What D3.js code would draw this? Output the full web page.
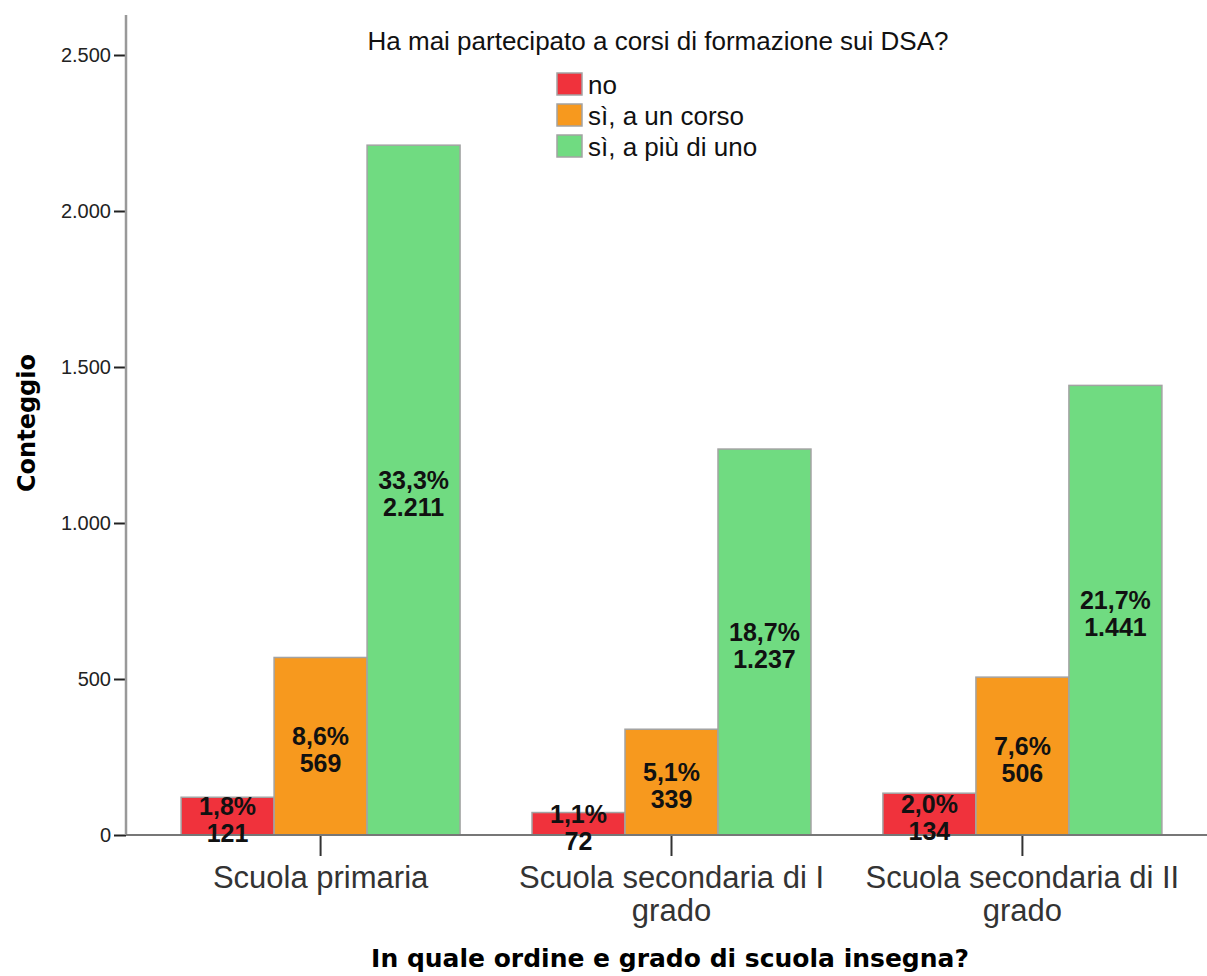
<!DOCTYPE html>
<html lang="it">
<head>
    <meta charset="UTF-8">
    <title>Ha mai partecipato a corsi di formazione sui DSA?</title>
    <style>
        body, html {
            margin: 0;
            padding: 0;
            background: #fff;
            overflow: hidden;
        }
        svg text {
            font-family: "Liberation Sans", Arial, sans-serif;
        }
        .bar-label {
            font-family: "Liberation Sans", Arial, sans-serif;
            font-weight: bold;
            font-size: 25px;
            fill: #111;
        }
        .axis-title {
            font-family: "DejaVu Sans", Verdana, sans-serif !important;
            font-weight: bold;
            fill: #000;
        }
    </style>
</head>
<body>
    <svg id="chart" width="1207" height="976"></svg>

    <script src="https://cdnjs.cloudflare.com/ajax/libs/d3/7.8.5/d3.min.js"></script>
    <script>
        // data
        const categories = ["Scuola primaria", "Scuola secondaria di I grado", "Scuola secondaria di II grado"];
        const series = ["no", "sì, a un corso", "sì, a più di uno"];
        const countNo = [121, 72, 134];
        const countUno = [569, 339, 506];
        const countPiu = [2211, 1237, 1441];
        const pctNo = [1.8, 1.1, 2.0];
        const pctUno = [8.6, 5.1, 7.6];
        const pctPiu = [33.3, 18.7, 21.7];
        const yTicks = [0, 500, 1000, 1500, 2000, 2500];
        const colors = ["#f0323c", "#f7991e", "#70db81"];

        const counts = [countNo, countUno, countPiu];
        const pcts = [pctNo, pctUno, pctPiu];

        const it = d3.formatLocale({decimal: ",", thousands: ".", grouping: [3], currency: ["€", ""]});
        const fmtInt = it.format(",d");
        const fmtPct = it.format(".1f");

        const width = 1207, height = 976;
        const left = 126, baseY = 835, topY = 15;

        const svg = d3.select("#chart");

        const y = d3.scaleLinear().domain([0, 2500]).range([baseY, 55]);
        const x0 = d3.scaleBand().domain(categories).range([left, 1217])
            .paddingInner(0.205).paddingOuter(0.157);
        const x1 = d3.scaleBand().domain(series).range([0, x0.bandwidth()]);

        // rows: one per bar
        const rows = [];
        categories.forEach((c, i) => {
            series.forEach((s, j) => {
                rows.push({cat: c, ser: s, value: counts[j][i], pct: pcts[j][i], color: colors[j]});
            });
        });

        // y axis
        const yAxis = svg.append("g")
            .attr("transform", `translate(${left},0)`)
            .call(d3.axisLeft(y).tickValues(yTicks).tickSize(12).tickPadding(3).tickFormat(fmtInt));
        yAxis.select(".domain").remove();
        yAxis.selectAll(".tick line").attr("stroke", "#222").attr("stroke-width", 2);
        yAxis.selectAll(".tick text").attr("font-size", 20).attr("fill", "#222")
            .attr("font-family", "Liberation Sans, Arial, sans-serif");
        svg.append("line")
            .attr("x1", left).attr("x2", left)
            .attr("y1", topY).attr("y2", baseY)
            .attr("stroke", "#999").attr("stroke-width", 2.5);

        // bars
        svg.append("g").selectAll("rect")
            .data(rows)
            .join("rect")
            .attr("x", d => x0(d.cat) + x1(d.ser))
            .attr("y", d => y(d.value))
            .attr("width", x1.bandwidth())
            .attr("height", d => y(0) - y(d.value))
            .attr("fill", d => d.color)
            .attr("stroke", "#a3a3a3")
            .attr("stroke-width", 1.5);

        // x axis
        svg.append("line")
            .attr("x1", left).attr("x2", width)
            .attr("y1", baseY).attr("y2", baseY)
            .attr("stroke", "#777").attr("stroke-width", 2);

        const xAxis = svg.append("g")
            .attr("transform", `translate(0,${baseY + 1})`)
            .call(d3.axisBottom(x0).tickSize(20).tickSizeOuter(0).tickPadding(10));
        xAxis.select(".domain").remove();
        xAxis.selectAll(".tick line").attr("stroke", "#333").attr("stroke-width", 2);
        xAxis.selectAll(".tick text")
            .attr("font-size", 31)
            .attr("fill", "#333")
            .call(wrap, x0.step() * 0.95);

        // bar labels
        const lab = svg.append("g").selectAll("text")
            .data(rows)
            .join("text")
            .attr("class", "bar-label")
            .attr("text-anchor", "middle")
            .attr("x", d => x0(d.cat) + x1(d.ser) + x1.bandwidth() / 2)
            .attr("y", d => (y(d.value) + y(0)) / 2);
        lab.append("tspan")
            .attr("x", d => x0(d.cat) + x1(d.ser) + x1.bandwidth() / 2)
            .attr("dy", "-0.05em")
            .text(d => fmtPct(d.pct) + "%");
        lab.append("tspan")
            .attr("x", d => x0(d.cat) + x1(d.ser) + x1.bandwidth() / 2)
            .attr("dy", "1.1em")
            .text(d => fmtInt(d.value));

        // legend
        svg.append("text")
            .attr("x", 658).attr("y", 50)
            .attr("text-anchor", "middle")
            .attr("font-size", 26)
            .attr("fill", "#111")
            .text("Ha mai partecipato a corsi di formazione sui DSA?");

        const legend = svg.append("g").attr("transform", "translate(557,73)");
        const li = legend.selectAll("g")
            .data(series)
            .join("g")
            .attr("transform", (d, i) => `translate(0,${i * 31})`);
        li.append("rect")
            .attr("width", 25).attr("height", 22)
            .attr("fill", (d, i) => colors[i])
            .attr("stroke", "#a3a3a3").attr("stroke-width", 1.5);
        li.append("text")
            .attr("x", 31).attr("y", 21)
            .attr("font-size", 26)
            .attr("fill", "#111")
            .text(d => d);

        // axis titles
        svg.append("text")
            .attr("class", "axis-title")
            .attr("transform", "translate(35,423) rotate(-90)")
            .attr("text-anchor", "middle")
            .attr("font-size", 24)
            .text("Conteggio");

        svg.append("text")
            .attr("class", "axis-title")
            .attr("x", 670).attr("y", 967)
            .attr("text-anchor", "middle")
            .attr("font-size", 25)
            .text("In quale ordine e grado di scuola insegna?");

        function wrap(text, maxW) {
            text.each(function() {
                const t = d3.select(this);
                const words = t.text().split(/\s+/);
                const yy = t.attr("y");
                const dy = parseFloat(t.attr("dy"));
                t.text(null);
                let line = [];
                let lineNo = 0;
                let tspan = t.append("tspan").attr("x", 0).attr("y", yy).attr("dy", dy + "em");
                words.forEach(w => {
                    line.push(w);
                    tspan.text(line.join(" "));
                    if (tspan.node().getComputedTextLength() > maxW && line.length > 1) {
                        line.pop();
                        tspan.text(line.join(" "));
                        line = [w];
                        lineNo++;
                        tspan = t.append("tspan").attr("x", 0).attr("y", yy)
                            .attr("dy", (dy + lineNo * 1.06) + "em").text(w);
                    }
                });
            });
        }
    </script>
</body>
</html>
